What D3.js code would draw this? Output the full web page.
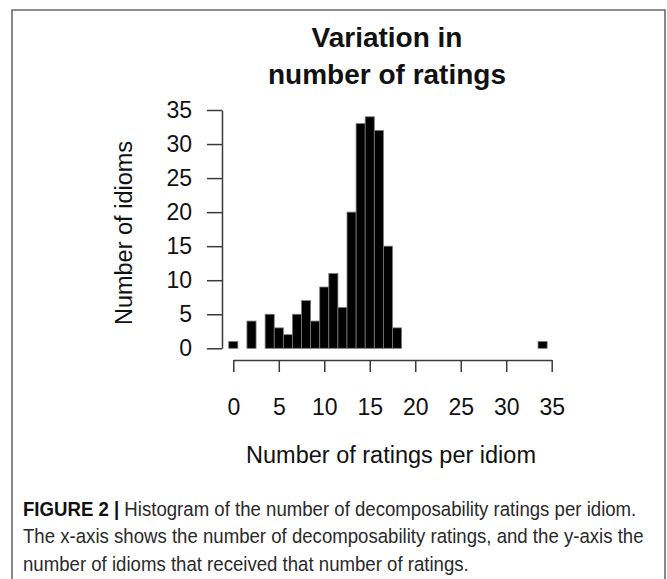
<!DOCTYPE html>
<html>
<head>
<meta charset="utf-8">
<script src="https://cdn.jsdelivr.net/npm/d3@7/dist/d3.min.js"></script>
<style>
  html, body { margin: 0; padding: 0; background: #fff; }
  svg { display: block; font-family: "Liberation Sans", Arial, Helvetica, sans-serif; }
</style>
</head>
<body>
<svg id="fig" width="667" height="579"></svg>
<script>
// Number of ratings an idiom received (bin centres, width 1)
const ratingBins = [0, 1, 2, 3, 4, 5, 6, 7, 8, 9, 10, 11, 12, 13, 14, 15, 16, 17,
  18, 19, 20, 21, 22, 23, 24, 25, 26, 27, 28, 29, 30, 31, 32, 33, 34];
// Number of idioms in each bin
const idiomCounts = [1, 0, 4, 0, 5, 3, 2, 5, 7, 4, 9, 11, 6, 20, 33, 34, 32, 15,
  3, 0, 0, 0, 0, 0, 0, 0, 0, 0, 0, 0, 0, 0, 0, 0, 1];

const xTickValues = [0, 5, 10, 15, 20, 25, 30, 35];
const yTickValues = [0, 5, 10, 15, 20, 25, 30, 35];

const titleLines = ["Variation in", "number of ratings"];
const xTitle = "Number of ratings per idiom";
const yTitle = "Number of idioms";
const captionLines = [
  { bold: "FIGURE 2 |", text: " Histogram of the number of decomposability ratings per idiom." },
  { bold: "", text: "The x-axis shows the number of decomposability ratings, and the y-axis the" },
  { bold: "", text: "number of idioms that received that number of ratings." }
];

const svg = d3.select("#fig");

// panel frame (open at the bottom)
svg.append("path")
  .attr("d", "M12,579 V10 H665 V579")
  .attr("fill", "none")
  .attr("stroke", "#6b6b6b")
  .attr("stroke-width", 1.6);

const x = d3.scaleLinear().domain([0, 35]).range([233.3, 551.7]);
const y = d3.scaleLinear().domain([0, 35]).range([348.3, 110]);

// histogram bars
const bins = ratingBins.map((v, i) => ({ v, n: idiomCounts[i] })).filter(d => d.n > 0);
svg.append("g").selectAll("rect")
  .data(bins)
  .join("rect")
  .attr("x", d => x(d.v - 0.5))
  .attr("width", d => x(d.v + 0.5) - x(d.v - 0.5))
  .attr("y", d => y(d.n))
  .attr("height", d => y(0) - y(d.n))
  .attr("fill", "#000")
  .attr("stroke", "#7a7a7a")
  .attr("stroke-width", 0.8);

// y axis
const yAxis = svg.append("g")
  .attr("transform", "translate(222,0)")
  .call(d3.axisLeft(y).tickValues(yTickValues).tickSize(15).tickSizeOuter(0).tickPadding(15));

// x axis
const xAxis = svg.append("g")
  .attr("transform", "translate(0,360)")
  .call(d3.axisBottom(x).tickValues(xTickValues).tickSize(12).tickSizeOuter(0).tickPadding(27));

[yAxis, xAxis].forEach(g => {
  g.selectAll("path, line").attr("stroke", "#3a3a3a").attr("stroke-width", 1.5);
  g.selectAll("text")
    .attr("fill", "#111")
    .style("font-size", "23px")
    .style("font-family", "'Liberation Sans', Arial, sans-serif");
});

// title
svg.append("text")
  .attr("text-anchor", "middle")
  .style("font-size", "28px").style("font-weight", "bold")
  .attr("fill", "#111")
  .selectAll("tspan")
  .data(titleLines)
  .join("tspan")
  .attr("x", 387)
  .attr("y", (d, i) => 47 + i * 37)
  .text(d => d);

// axis titles
svg.append("text")
  .attr("x", 391).attr("y", 463)
  .attr("text-anchor", "middle")
  .style("font-size", "23.5px")
  .attr("fill", "#111")
  .text(xTitle);

svg.append("text")
  .attr("transform", "translate(132,233) rotate(-90)")
  .attr("text-anchor", "middle")
  .style("font-size", "23.5px")
  .attr("fill", "#111")
  .text(yTitle);

// caption, set slightly condensed so the first line spans the panel width
const captionSize = 19.5;
const caption = svg.append("g").attr("fill", "#2a2a2a").style("font-size", captionSize + "px");
captionLines.forEach((line, i) => {
  const t = caption.append("text")
    .attr("x", 0)
    .attr("y", 516 + i * 27.5);
  if (line.bold) t.append("tspan").style("font-weight", "bold").attr("fill", "#111").text(line.bold);
  t.append("tspan").text(line.text);
});
const firstWidth = caption.select("text").node().getComputedTextLength();
const squeeze = Math.min(1, 614 / firstWidth);
caption.attr("transform", `translate(23,0) scale(${squeeze},1)`);
</script>
</body>
</html>
